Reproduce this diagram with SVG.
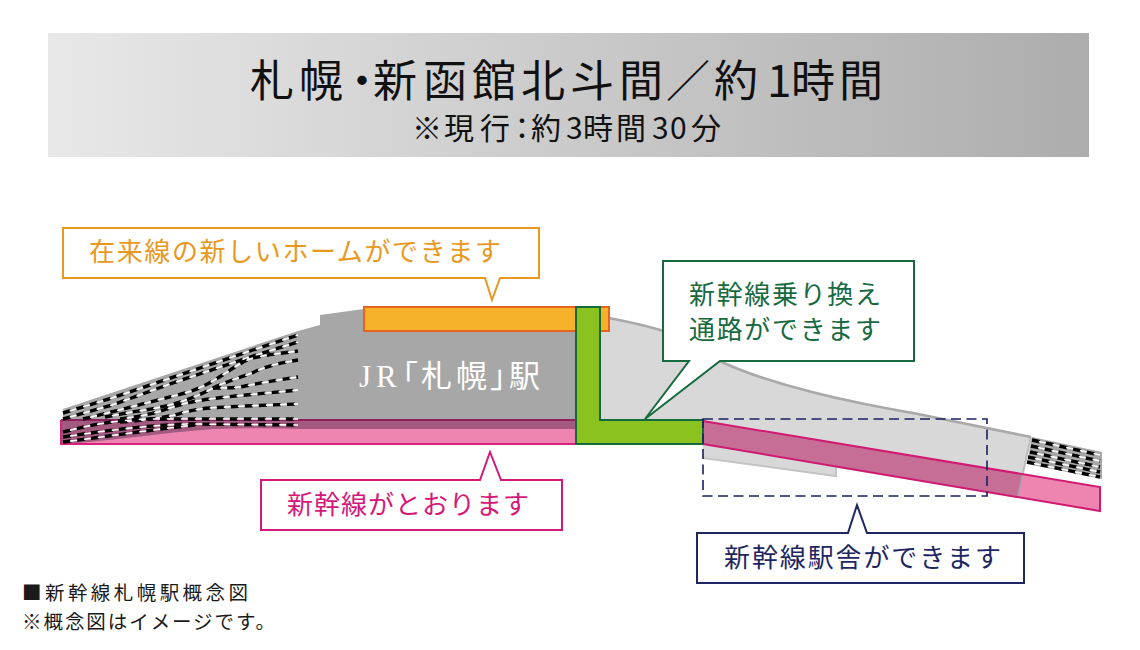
<svg xmlns="http://www.w3.org/2000/svg" width="1140" height="650" viewBox="0 0 1140 650">
<style>
text{font-family:"Noto Sans CJK JP","Noto Sans",sans-serif;font-weight:400}
.box{fill:#fff;stroke-width:2}
.b{fill:none;stroke:#000;stroke-width:3.4;stroke-dasharray:8 6}
.w{fill:none;stroke:#fff;stroke-width:1.6;stroke-dasharray:7 7;stroke-dashoffset:7}
.footer{font-size:19.5px;fill:#1a1a1a}
.lab{font-size:26px}
</style>
<defs>
<linearGradient id="g" x1="0" x2="1" y1="0" y2="0"><stop offset="0" stop-color="#e8e8e8"/><stop offset="1" stop-color="#adadad"/></linearGradient>
<path id="t1" d="M63 413L112 398L203 367L250 351L298 335"/>
<path id="t2" d="M63 419L112 405L170 384L250 357L298 342"/>
<path id="t3" d="M83 419C120 410 150 402 185 393C215 385 235 363 253 358C270 354 285 353 298 351"/>
<path id="t4" d="M105 417L132 412C160 408 185 403 213 388C230 380 245 376 252 373C265 366 285 362 298 360"/>
<path id="t5" d="M213 388C225 388 237 388 245 386C265 382 285 379 298 377"/>
<path id="t6" d="M120 419C135 417 150 415 170 408C185 403 195 401 210 399C240 395 270 393 298 390"/>
<path id="t7" d="M120 422C140 421 160 418 175 415C185 412 195 409 210 408C240 406 270 405 298 404"/>
<path id="t8" d="M63 432C90 425 115 420 150 419L298 419"/>
<path id="t9" d="M63 437C110 430 150 425 190 424L298 425"/>
<path id="t10" d="M63 442C110 436 150 430 195 425"/>
<path id="r1" d="M1032 440L1100 455"/>
<path id="r2" d="M1031 446L1100 461"/>
<path id="r3" d="M1030 452L1100 467"/>
<path id="r4" d="M1028 457L1100 472"/>
<path id="r5" d="M1027 462L1100 477"/>
</defs>

<rect x="48" y="33" width="1041" height="124" fill="url(#g)"/>
<text font-size="44" fill="#111" x="250 299 340 373 423 472 521 570 619 666 714 767 791 839" y="97">札幌・新函館北斗間／約1時間</text>
<text font-size="30" fill="#111" x="412 444 480 507 531 566 583 616 652 670 691" y="139">※現行：約3時間30分</text>

<g id="station">
<path d="M63 409L298 331L320 325L320 315L364 309H576V420H63Z" fill="#a7a7a7"/>
<path d="M609 318C630 322 655 328 670 333C690 342 700 352 713 358C730 366 745 372 760 377C800 390 830 397 860 403C880 407 895 410 913 413L1031 437L1023 473L1018 497L837 468V477L703 458V420H600V318Z" fill="#d9d8d8"/>
<path d="M609 318C630 322 655 328 670 333C690 342 700 352 713 358C730 366 745 372 760 377C800 390 830 397 860 403C880 407 895 410 913 413L1031 437" fill="none" stroke="#a9a9a9" stroke-width="2.5"/>
<path d="M703 458L836 476V462" fill="none" stroke="#c4c4c4" stroke-width="2"/>
</g>
<g id="tracks-right">
<path d="M1032 437L1102 452V479L1027 464Z" fill="#a7a7a7"/>
<use href="#r1" class="b"/><use href="#r1" class="w"/><use href="#r2" class="b"/><use href="#r2" class="w"/><use href="#r3" class="b"/><use href="#r3" class="w"/><use href="#r4" class="b"/><use href="#r4" class="w"/><use href="#r5" class="b"/><use href="#r5" class="w"/>
</g>
<g id="shinkansen-line">
<rect x="61" y="420" width="515" height="24" fill="#ee85b0"/>
<path d="M61 420H576V429H300C270 428 240 428 213 429C160 433 110 441 63 444H61Z" fill="#a25a80"/>
<path d="M61 420H576" stroke="#8f2060" stroke-width="2" fill="none"/>
<path d="M576 444H61V420" fill="none" stroke="#d8237d" stroke-width="2"/>
<path d="M703 421L1100 487V511L703 444Z" fill="#ee85b0"/>
<path d="M703 421L1023 474L1018 497L703 444Z" fill="#c66e96"/>
<path d="M1031 437L1023 473L1018 497" fill="none" stroke="#a9a9a9" stroke-width="2" stroke-opacity=".7"/>
<path d="M703 421L1100 487V511L703 444" fill="none" stroke="#cf1a72" stroke-width="2"/>
</g>
<g id="tracks-left">
<use href="#t1" class="b"/><use href="#t1" class="w"/>
<use href="#t2" class="b"/><use href="#t2" class="w"/>
<use href="#t3" class="b"/><use href="#t3" class="w"/>
<use href="#t4" class="b"/><use href="#t4" class="w"/>
<use href="#t5" class="b"/><use href="#t5" class="w"/>
<use href="#t6" class="b"/><use href="#t6" class="w"/>
<use href="#t7" class="b"/><use href="#t7" class="w"/>
<use href="#t8" class="b"/><use href="#t8" class="w"/>
<use href="#t9" class="b"/><use href="#t9" class="w"/>
<use href="#t10" class="b"/><use href="#t10" class="w"/>
</g>
<g id="platform"><rect x="364" y="307" width="245" height="24" fill="#f7b22c" stroke="#e8641e" stroke-width="2"/></g>
<g id="passage"><path d="M576 307H600V420H703V444H576Z" fill="#8cc220" stroke="#136a3c" stroke-width="2"/></g>
<g id="station-label"><text font-size="31" fill="#fff" style="font-family:'Liberation Serif','Noto Sans CJK JP',serif;font-weight:400" x="359 376 387 421 456 490 509" y="387">JR「札幌」駅</text></g>
<g id="building-outline"><rect x="703" y="419" width="284" height="77" fill="none" stroke="#1a2060" stroke-width="1.6" stroke-dasharray="10 5.5"/></g>

<g id="callout-platform">
<path class="box" stroke="#e8981e" d="M63 228H539V278H500L492 300L485 278H63Z"/>
<text class="lab" fill="#e8981e" x="89" y="261" textLength="412">在来線の新しいホームができます</text>
</g>
<g id="callout-transfer">
<path class="box" stroke="#17693f" d="M663 261H914V361H720L645 419L689 361H663Z"/>
<text class="lab" fill="#17693f" x="689" y="304" textLength="192">新幹線乗り換え</text>
<text class="lab" fill="#17693f" x="689" y="339" textLength="192">通路ができます</text>
</g>
<g id="callout-line">
<path class="box" stroke="#d4197a" d="M261 480H480L490 452L501 480H562V530H261Z"/>
<text class="lab" fill="#d4197a" x="287" y="514" textLength="242">新幹線がとおります</text>
</g>
<g id="callout-building">
<path class="box" stroke="#1e2761" d="M697 533H848L857 505L867 533H1024V583H697Z"/>
<text class="lab" fill="#1e2761" x="724" y="567" textLength="277">新幹線駅舎ができます</text>
</g>
<text class="footer" x="22" y="600" textLength="226">■新幹線札幌駅概念図</text>
<text class="footer" x="22" y="629" textLength="253">※概念図はイメージです。</text>
</svg>
